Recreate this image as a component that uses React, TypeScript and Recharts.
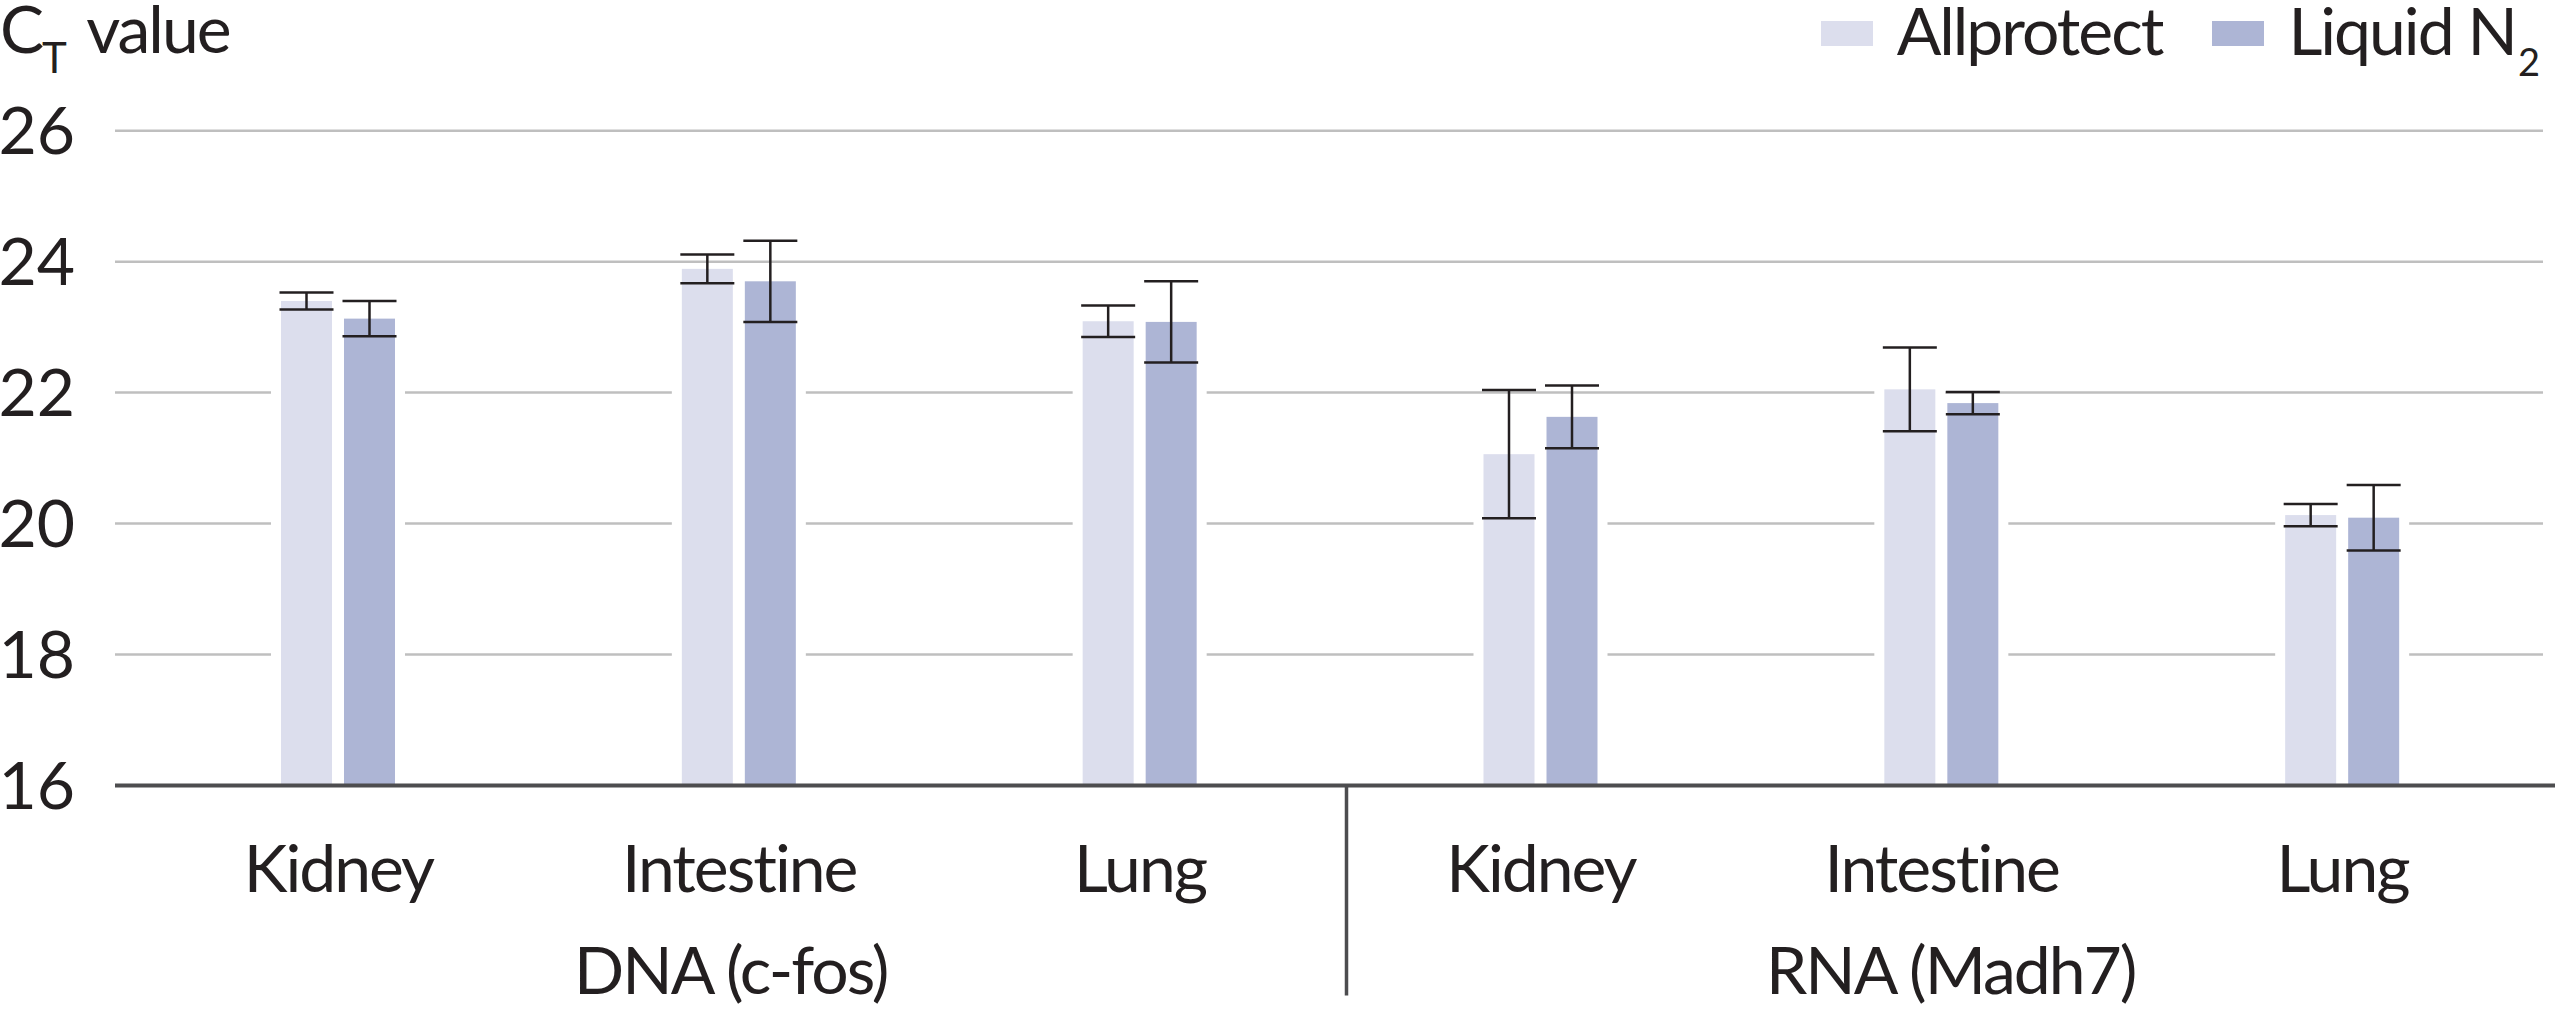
import React from "react";
import { Bar, BarChart, CartesianGrid, ErrorBar, Label, Legend, XAxis, YAxis } from "recharts";

document.body.style.margin = "0";

const W = 2560;
const H = 1011;
const FONT = "Lato, 'Noto Sans', sans-serif";
const INK = "#231f20";
const AXIS = "#4d4d4f";
const GRID = "#bfbfbf";
const LIGHT = "#dcdeed";
const DARK = "#adb5d5";
const TIGHT = -2; // Lato runs a bit wider than the original face

// chart values
const tissues = ["Kidney", "Intestine", "Lung", "Kidney", "Intestine", "Lung"];
const groups = ["DNA (c-fos)", "RNA (Madh7)"];
const groupOf = [0, 0, 0, 1, 1, 1];
const seriesNames = ["Allprotect", "Liquid N2"];
const allprotect = [23.4, 23.89, 23.09, 21.06, 22.05, 20.13];
const allprotectErr = [0.13, 0.22, 0.24, 0.98, 0.64, 0.17];
const liquidN2 = [23.13, 23.7, 23.08, 21.63, 21.84, 20.09];
const liquidN2Err = [0.27, 0.62, 0.62, 0.48, 0.17, 0.5];
const yTicks = [16, 18, 20, 22, 24, 26];

const data = tissues.map((t, i) => ({
  key: `${groups[groupOf[i]]} ${t}`,
  tissue: t,
  allprotect: allprotect[i],
  allprotectErr: allprotectErr[i],
  liquidN2: liquidN2[i],
  liquidN2Err: liquidN2Err[i],
}));

const margin = { top: 130.7, right: 5, bottom: 15.5, left: 0 };
const Y_W = 115;
const PAD = { left: 23, right: 12 };
const SEP_SHIFT = 6;
const band = (W - margin.left - margin.right - Y_W - PAD.left - PAD.right) / tissues.length;

// bar with a white halo on its sides, so the grid lines stop short of it
function HaloBar(props: any) {
  const { x, y, width, height, fill } = props;
  if (!height || height <= 0) return null;
  return (
    <g>
      <rect x={x - 10} y={y} width={width + 20} height={height} fill="#ffffff" />
      <rect x={x} y={y} width={width} height={height} fill={fill} />
    </g>
  );
}

function TissueTick(props: any) {
  const { x, y, index } = props;
  const g = groupOf[index];
  const first = groupOf.indexOf(g);
  const last = groupOf.lastIndexOf(g);
  const isMiddle = index === first + 1;
  // group spans from plot edge / separator to separator / plot edge
  const leftEdge =
    x - (index - first + 0.5) * band + (g === 0 ? -PAD.left : SEP_SHIFT);
  const rightEdge =
    x + (last - index + 0.5) * band + (g === groups.length - 1 ? PAD.right : SEP_SHIFT);
  return (
    <g fontFamily={FONT} fill={INK}>
      <text x={x} y={y + 106} textAnchor="middle" fontSize={66} letterSpacing={TIGHT}>
        {tissues[index]}
      </text>
      {isMiddle && (
        <text
          x={(leftEdge + rightEdge) / 2}
          y={y + 208}
          textAnchor="middle"
          fontSize={66}
          letterSpacing={TIGHT}
        >
          {groups[g]}
        </text>
      )}
      {g > 0 && index === first && (
        <line
          x1={x - band / 2 + SEP_SHIFT}
          x2={x - band / 2 + SEP_SHIFT}
          y1={y}
          y2={y + 210}
          stroke={AXIS}
          strokeWidth={3.5}
        />
      )}
    </g>
  );
}

function renderLegend(props: any) {
  const { payload = [] } = props;
  return (
    <div style={{ position: "relative", height: 0 }}>
      <div
        style={{
          position: "absolute",
          top: -3,
          right: 22,
          display: "flex",
          gap: 50,
          fontFamily: FONT,
          fontSize: 66,
          lineHeight: "66px",
          letterSpacing: TIGHT,
          color: INK,
          whiteSpace: "nowrap",
        }}
      >
        {payload.map((p: any, i: number) => {
          const m = String(p.value).match(/^(.*?)(\d+)$/);
          const main = m ? m[1] : p.value;
          const sub = m ? m[2] : "";
          return (
            <div key={i} style={{ display: "flex", alignItems: "flex-start" }}>
              <span
                style={{
                  display: "block",
                  width: 52,
                  height: 25,
                  marginTop: 23.7,
                  marginRight: 24,
                  background: p.color,
                }}
              />
              <span>
                {main}
                {sub && (
                  <span style={{ fontSize: 38, position: "relative", top: 21, marginLeft: 2 }}>
                    {sub}
                  </span>
                )}
              </span>
            </div>
          );
        })}
      </div>
    </div>
  );
}

export default function App() {
  return (
    <div style={{ width: W, height: H, background: "#fff" }}>
      <BarChart width={W} height={H} data={data} margin={margin} barSize={51} barGap={12}>
        <CartesianGrid
          vertical={false}
          horizontal={(p: any) => (
            <line
              key={`h-${p.index}`}
              x1={p.x1}
              x2={p.x2 - 12}
              y1={p.y1}
              y2={p.y2}
              stroke={GRID}
              strokeWidth={2.5}
            />
          )}
        />
        <XAxis
          dataKey="key"
          interval={0}
          tickLine={false}
          tickSize={0}
          tickMargin={0}
          height={210}
          padding={PAD}
          axisLine={{ stroke: AXIS, strokeWidth: 4 }}
          tick={<TissueTick />}
        />
        <YAxis
          width={Y_W}
          domain={[16, 26]}
          ticks={yTicks}
          axisLine={false}
          tickLine={false}
          tickSize={0}
          tickMargin={40}
          tick={{ fontSize: 66, fill: INK, fontFamily: FONT }}
        >
          <Label
            content={(lp: any) => {
              const vb = lp.viewBox || { x: 0, y: 130.7 };
              return (
                <text
                  x={vb.x}
                  y={vb.y - 78}
                  fontFamily={FONT}
                  fontSize={66}
                  fill={INK}
                  letterSpacing={TIGHT}
                >
                  <tspan>C</tspan>
                  <tspan fontSize={42} dy={20}>T</tspan>
                  <tspan fontSize={66} dy={-20} dx={8}> value</tspan>
                </text>
              );
            }}
          />
        </YAxis>
        <Legend
          content={renderLegend}
          wrapperStyle={{ top: 0, left: 0, right: "auto", width: W, height: 0 }}
        />
        <Bar dataKey="allprotect" name={seriesNames[0]} fill={LIGHT} shape={<HaloBar />} isAnimationActive={false}>
          <ErrorBar dataKey="allprotectErr" width={27} strokeWidth={2.5} stroke={INK} direction="y" />
        </Bar>
        <Bar dataKey="liquidN2" name={seriesNames[1]} fill={DARK} shape={<HaloBar />} isAnimationActive={false}>
          <ErrorBar dataKey="liquidN2Err" width={27} strokeWidth={2.5} stroke={INK} direction="y" />
        </Bar>
      </BarChart>
    </div>
  );
}
